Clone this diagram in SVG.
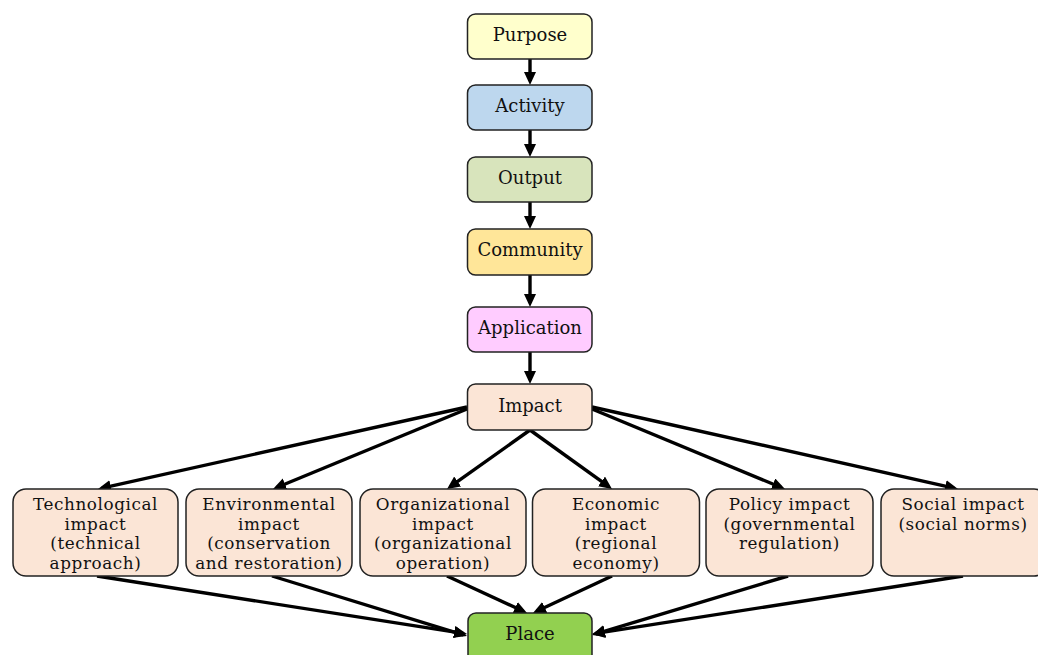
<svg xmlns="http://www.w3.org/2000/svg" width="1038" height="655" viewBox="0 0 1038 655">
<style>
.box{stroke:#222;stroke-width:1.5}
.t{font-family:"DejaVu Serif","Liberation Serif",serif;font-size:18px;fill:#111;text-anchor:middle}
.s{font-size:16.8px;letter-spacing:0.6px}
.c line{stroke:#000;stroke-width:3.4;marker-end:url(#ah)}
</style>
<defs>
<marker id="ah" markerUnits="userSpaceOnUse" markerWidth="15" markerHeight="13" refX="9" refY="6" orient="auto">
<path d="M0,0 L13,6 L0,12 z" fill="#000"/>
</marker>
</defs>
<g class="c" id="connectors">
<line x1="530" y1="59" x2="530" y2="81"/>
<line x1="530" y1="130" x2="530" y2="153"/>
<line x1="530" y1="202" x2="530" y2="225"/>
<line x1="530" y1="275" x2="530" y2="303"/>
<line x1="530" y1="352" x2="530" y2="380"/>
<line x1="467" y1="407" x2="101.9" y2="488.1"/>
<line x1="467" y1="409" x2="276.7" y2="487.5"/>
<line x1="530" y1="430" x2="450.3" y2="486.7"/>
<line x1="530" y1="430" x2="608.8" y2="486.7"/>
<line x1="592" y1="409" x2="781.3" y2="487.5"/>
<line x1="592" y1="407" x2="954.1" y2="488.1"/>
<line x1="97" y1="576" x2="463.1" y2="633.4"/>
<line x1="272" y1="576" x2="463.2" y2="634.8"/>
<line x1="447" y1="576" x2="523.4" y2="611.3"/>
<line x1="612" y1="576" x2="536.6" y2="611.3"/>
<line x1="788" y1="576" x2="595.8" y2="633.8"/>
<line x1="963" y1="576" x2="596" y2="633.4"/>
</g>
<g id="purpose"><rect class="box" x="467.5" y="14" width="124.5" height="45" rx="8" fill="#FFFFCC"/><text class="t" x="530" y="41">Purpose</text></g>
<g id="activity"><rect class="box" x="467.5" y="85" width="124.5" height="45" rx="8" fill="#BDD7EE"/><text class="t" x="530" y="112">Activity</text></g>
<g id="output"><rect class="box" x="467.5" y="157" width="124.5" height="45" rx="8" fill="#D8E4BC"/><text class="t" x="530" y="184">Output</text></g>
<g id="community"><rect class="box" x="467.5" y="229" width="124.5" height="46" rx="8" fill="#FFE699"/><text class="t" x="530" y="256">Community</text></g>
<g id="application"><rect class="box" x="467.5" y="307" width="124.5" height="45" rx="8" fill="#FFCCFF"/><text class="t" x="530" y="334">Application</text></g>
<g id="impact"><rect class="box" x="467.5" y="384" width="124.5" height="46" rx="8" fill="#FBE5D6"/><text class="t" x="530" y="412">Impact</text></g>
<g id="technological"><rect class="box" x="13" y="489" width="165" height="87" rx="13" fill="#FBE5D6"/><text class="t s" x="95.5" y="510"><tspan x="95.5">Technological</tspan><tspan x="95.5" dy="19.6">impact</tspan><tspan x="95.5" dy="19.6">(technical</tspan><tspan x="95.5" dy="19.6">approach)</tspan></text></g>
<g id="environmental"><rect class="box" x="186" y="489" width="166" height="87" rx="13" fill="#FBE5D6"/><text class="t s" x="269" y="510"><tspan x="269">Environmental</tspan><tspan x="269" dy="19.6">impact</tspan><tspan x="269" dy="19.6">(conservation</tspan><tspan x="269" dy="19.6">and restoration)</tspan></text></g>
<g id="organizational"><rect class="box" x="360" y="489" width="166" height="87" rx="13" fill="#FBE5D6"/><text class="t s" x="443" y="510"><tspan x="443">Organizational</tspan><tspan x="443" dy="19.6">impact</tspan><tspan x="443" dy="19.6">(organizational</tspan><tspan x="443" dy="19.6">operation)</tspan></text></g>
<g id="economic"><rect class="box" x="532.5" y="489" width="167" height="87" rx="13" fill="#FBE5D6"/><text class="t s" x="616" y="510"><tspan x="616">Economic</tspan><tspan x="616" dy="19.6">impact</tspan><tspan x="616" dy="19.6">(regional</tspan><tspan x="616" dy="19.6">economy)</tspan></text></g>
<g id="policy"><rect class="box" x="706" y="489" width="167" height="87" rx="13" fill="#FBE5D6"/><text class="t s" x="789.5" y="510"><tspan x="789.5">Policy impact</tspan><tspan x="789.5" dy="19.6">(governmental</tspan><tspan x="789.5" dy="19.6">regulation)</tspan></text></g>
<g id="social"><rect class="box" x="881" y="489" width="166" height="87" rx="13" fill="#FBE5D6"/><text class="t s" x="963" y="510"><tspan x="963">Social impact</tspan><tspan x="963" dy="19.6">(social norms)</tspan></text></g>
<g id="place"><rect class="box" x="468" y="613" width="124" height="50" rx="8" fill="#92D050"/><text class="t" x="530" y="640">Place</text></g>
</svg>
